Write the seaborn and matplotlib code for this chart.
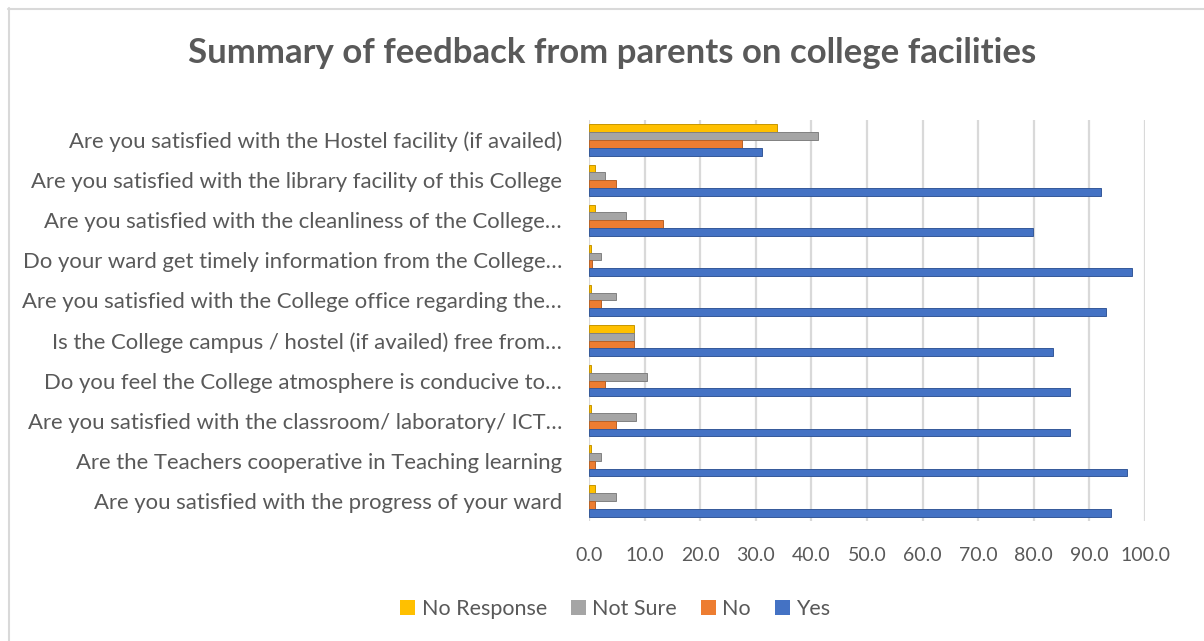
import numpy as np
import pandas as pd
import seaborn as sns
import matplotlib.pyplot as plt
from matplotlib.patches import Patch
from matplotlib.lines import Line2D
import matplotlib.colors as mcolors

questions = [
    "Are you satisfied with the Hostel facility (if availed)",
    "Are you satisfied with the library facility of this College",
    "Are you satisfied with the cleanliness of the College…",
    "Do your ward get timely information from the College…",
    "Are you satisfied with the College office regarding the…",
    "Is the College campus / hostel (if availed) free from…",
    "Do you feel the College atmosphere is conducive to…",
    "Are you satisfied with the classroom/ laboratory/ ICT…",
    "Are the Teachers cooperative in Teaching learning",
    "Are you satisfied with the progress of your ward",
]

yes = [31.2, 92.0, 79.9, 97.7, 93.0, 83.5, 86.5, 86.5, 96.7, 93.9]
no = [27.5, 4.8, 13.3, 0.5, 2.1, 8.1, 2.9, 4.8, 1.1, 1.1]
not_sure = [41.1, 2.9, 6.7, 2.1, 4.8, 8.1, 10.4, 8.5, 2.1, 4.8]
no_response = [33.8, 1.1, 1.1, 0.4, 0.4, 8.1, 0.4, 0.4, 0.4, 1.1]

series_names = ["No Response", "Not Sure", "No", "Yes"]
series_colors = ["#FFC000", "#A5A5A5", "#ED7D31", "#4472C4"]
x_ticks = [0, 10, 20, 30, 40, 50, 60, 70, 80, 90, 100]

df = pd.DataFrame({
    "question": questions * 4,
    "response": np.repeat(series_names, len(questions)),
    "value": no_response + not_sure + no + yes,
})

sns.set_theme(style="white")
plt.rcParams["font.family"] = ["Lato", "DejaVu Sans"]
text_color = "#595959"

fig = plt.figure(figsize=(12.04, 6.41), dpi=100)
ax = fig.add_axes([589 / 1204, 1 - 521 / 641, (1145 - 589) / 1204, (521 - 120) / 641])

sns.barplot(
    data=df, y="question", x="value", hue="response",
    order=questions, hue_order=series_names,
    palette=series_colors, orient="h", width=0.78,
    saturation=1, dodge=True, ax=ax, legend=False,
)

# slightly darker outline on each bar for a bevelled look
for patch in ax.patches:
    fc = np.array(mcolors.to_rgb(patch.get_facecolor()))
    patch.set_edgecolor(fc * 0.78)
    patch.set_linewidth(0.7)

ax.set_xlim(0, 100)
ax.set_ylim(len(questions) - 0.5, -0.5)
ax.set_xticks(x_ticks)
ax.set_xticklabels([f"{v:.1f}" for v in x_ticks], fontsize=14, color=text_color)
ax.tick_params(axis="x", length=0, pad=19)
ax.tick_params(axis="y", length=0, pad=19.5, labelsize=15.9, labelcolor=text_color)
for lbl in ax.get_yticklabels():
    lbl.set_color(text_color)
ax.set_xlabel("")
ax.set_ylabel("")
ax.xaxis.grid(True, color="#D9D9D9", linewidth=1.6)
ax.set_axisbelow(True)
for s in ax.spines.values():
    s.set_visible(False)

fig.text(0.508, 1 - 53 / 641, "Summary of feedback from parents on college facilities",
         ha="center", va="center", fontsize=25, fontweight="bold", color=text_color)

handles = [Patch(facecolor=c, edgecolor="none") for c in series_colors]
fig.legend(handles, series_names, loc="center", bbox_to_anchor=(0.511, 1 - 609 / 641),
           ncol=4, frameon=False, fontsize=15.5, handlelength=0.7, handleheight=0.7,
           handletextpad=0.3, columnspacing=1.1, labelcolor=text_color)

# chart frame
fig.add_artist(Line2D([8 / 1204, 1], [1 - 8.5 / 641, 1 - 8.5 / 641],
                      transform=fig.transFigure, color="#D9D9D9", linewidth=1.5))
fig.add_artist(Line2D([8.5 / 1204, 8.5 / 1204], [0, 1 - 8 / 641],
                      transform=fig.transFigure, color="#D9D9D9", linewidth=1.5))

fig.savefig("out.png", dpi=100, facecolor="white")
